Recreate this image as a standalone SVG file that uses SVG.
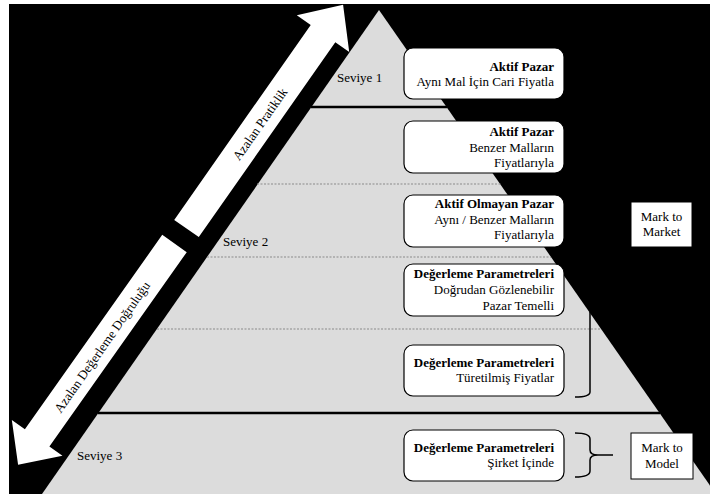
<svg xmlns="http://www.w3.org/2000/svg" width="710" height="494" viewBox="0 0 710 494">
<style>
.b{font-weight:bold}
.r{text-anchor:end}
.m{text-anchor:middle}
.box{fill:#fff;stroke:#000;stroke-width:1.2}
.sq{fill:#fff;stroke:#000;stroke-width:1}
.solid{stroke:#000;stroke-width:2.5}
.dot{stroke:#8a8a8a;stroke-width:1;stroke-dasharray:2 1.5}
.arrow{fill:#fff}
.br{fill:none;stroke:#000;stroke-width:1.5}
</style>
<rect x="0" y="0" width="710" height="494" fill="#fff"/>
<rect x="9" y="4" width="701" height="490" fill="#000"/>
<g font-family="Liberation Serif, Times New Roman, serif" font-size="13" fill="#000">
<g id="pyramid">
<polygon points="379,10 42,494 716,494" fill="#dcdcdc"/>
<line class="solid" x1="311" y1="107" x2="447" y2="107"/>
<line class="dot" x1="257" y1="184" x2="501" y2="184"/>
<line class="dot" x1="207" y1="257" x2="551" y2="257"/>
<line class="dot" x1="157" y1="329" x2="601" y2="329"/>
<line class="solid" x1="98" y1="413" x2="660" y2="413"/>
<text x="337" y="82">Seviye 1</text>
<text x="223" y="246">Seviye 2</text>
<text x="77" y="460">Seviye 3</text>
</g>
<g id="arrow-pratiklik">
<polygon class="arrow" transform="translate(186.5,228.5) rotate(-55)" points="0,-15 238,-15 238,-32 273,0 238,32 238,15 0,15"/>
<text class="m" transform="translate(260,124) rotate(-55)" x="0" y="4.5">Azalan Pratiklik</text>
</g>
<g id="arrow-dogruluk">
<polygon class="arrow" transform="translate(174.5,243.5) rotate(125.25)" points="0,-15 238,-15 238,-31 271,0 238,31 238,15 0,15"/>
<text class="m" transform="translate(102,347) rotate(-55)" x="0" y="4.5">Azalan Değerleme Doğruluğu</text>
</g>
<g id="box1">
<rect class="box" x="404" y="48" width="160" height="51" rx="9"/>
<text class="b r" x="554" y="71">Aktif Pazar</text>
<text class="r" x="554" y="86">Aynı Mal İçin Cari Fiyatla</text>
</g>
<g id="box2">
<rect class="box" x="404" y="121" width="160" height="52" rx="9"/>
<text class="b r" x="554" y="136">Aktif Pazar</text>
<text class="r" x="554" y="152">Benzer Malların</text>
<text class="r" x="554" y="167">Fiyatlarıyla</text>
</g>
<g id="box3">
<rect class="box" x="404" y="195" width="160" height="52" rx="9"/>
<text class="b r" x="554" y="208">Aktif Olmayan Pazar</text>
<text class="r" x="554" y="224">Aynı / Benzer Malların</text>
<text class="r" x="554" y="239">Fiyatlarıyla</text>
</g>
<g id="box4">
<rect class="box" x="404" y="264" width="160" height="52" rx="9"/>
<text class="b r" x="554" y="278">Değerleme Parametreleri</text>
<text class="r" x="554" y="294">Doğrudan Gözlenebilir</text>
<text class="r" x="554" y="310">Pazar Temelli</text>
</g>
<g id="box5">
<rect class="box" x="404" y="345" width="160" height="51" rx="9"/>
<text class="b r" x="554" y="367">Değerleme Parametreleri</text>
<text class="r" x="554" y="382">Türetilmiş Fiyatlar</text>
</g>
<g id="box6">
<rect class="box" x="404" y="430" width="160" height="51" rx="9"/>
<text class="b r" x="554" y="452">Değerleme Parametreleri</text>
<text class="r" x="554" y="467">Şirket İçinde</text>
</g>
<g id="mark-to-market">
<rect class="sq" x="631" y="202" width="61" height="45"/>
<text class="m" x="661.5" y="221">Mark to</text>
<text class="m" x="661.5" y="236">Market</text>
</g>
<g id="mark-to-model">
<rect class="sq" x="631" y="433" width="62" height="46"/>
<text class="m" x="662" y="452">Mark to</text>
<text class="m" x="662" y="468">Model</text>
</g>
<g id="connectors">
<path class="br" d="M590,312 L590,392 Q590,397 575,397"/>
<path class="br" d="M575,433 Q590,433 590,439 L590,450 Q590,455 598,455 L613,455 M598,455 Q590,455 590,460 L590,471 Q590,477 575,477"/>
</g>
</g>
</svg>
